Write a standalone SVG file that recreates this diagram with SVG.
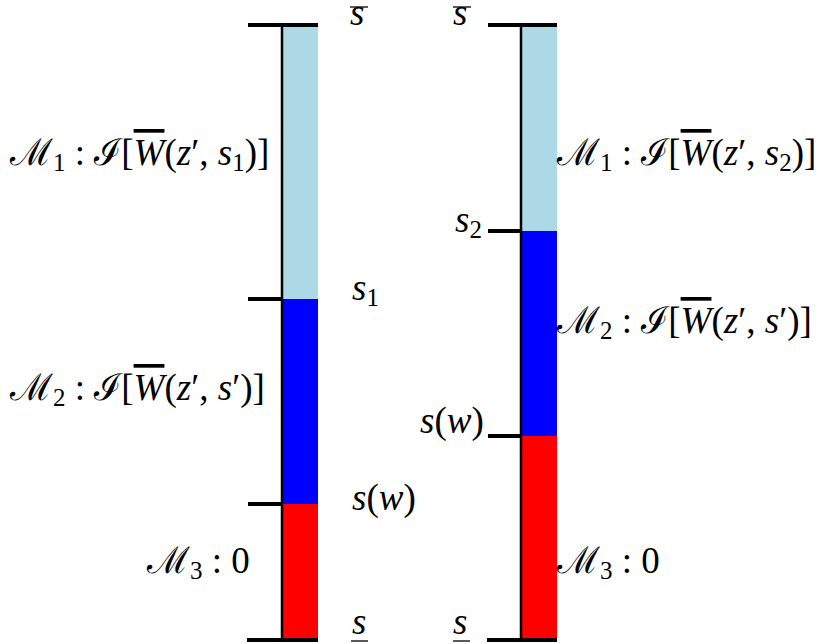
<svg xmlns="http://www.w3.org/2000/svg" width="824" height="644" viewBox="0 0 824 644">
<style>
.i{font-style:italic}
.sub{font-size:25px}
.tick{stroke:#000;stroke-width:4;fill:none}
.axis{stroke:#000;stroke-width:2.5;fill:none}
.ol{stroke:#000;stroke-width:1.3;fill:none}
.lb{fill:#ADD8E6}.bl{fill:#0000FF}.rd{fill:#FF0000}
</style>
<rect width="824" height="644" fill="#fff"/>
<g id="bar-left">
<rect class="lb" x="282" y="25" width="36" height="274"/>
<rect class="bl" x="282" y="299" width="36" height="205"/>
<rect class="rd" x="282" y="504" width="36" height="136"/>
<line class="axis" x1="282" y1="25" x2="282" y2="640"/>
<line class="tick" x1="248" y1="25" x2="318" y2="25"/>
<line class="tick" x1="248" y1="299" x2="282" y2="299"/>
<line class="tick" x1="248" y1="504" x2="282" y2="504"/>
<line class="tick" x1="247" y1="640" x2="318" y2="640"/>
</g>
<g id="bar-right">
<rect class="lb" x="521" y="25" width="36" height="206"/>
<rect class="bl" x="521" y="231" width="36" height="205"/>
<rect class="rd" x="521" y="436" width="36" height="204"/>
<line class="axis" x1="521" y1="25" x2="521" y2="640"/>
<line class="tick" x1="488" y1="25" x2="557" y2="25"/>
<line class="tick" x1="488" y1="231" x2="521" y2="231"/>
<line class="tick" x1="488" y1="436" x2="521" y2="436"/>
<line class="tick" x1="487" y1="640" x2="557" y2="640"/>
</g>
<g id="labels-left" font-family="Liberation Serif, DejaVu Serif, serif" font-size="37" fill="#000">
<text x="10" y="165">ℳ<tspan class="sub" dy="6">1</tspan><tspan dy="-6"> : ℐ[</tspan><tspan class="i" text-decoration="overline">W</tspan>(<tspan class="i">z</tspan>′, <tspan class="i">s</tspan><tspan class="sub" dy="6">1</tspan><tspan dy="-6">)]</tspan></text>
<text x="10" y="400">ℳ<tspan class="sub" dy="6">2</tspan><tspan dy="-6"> : ℐ[</tspan><tspan class="i" text-decoration="overline">W</tspan>(<tspan class="i">z</tspan>′, <tspan class="i">s</tspan>′)]</text>
<text x="147" y="573">ℳ<tspan class="sub" dy="6">3</tspan><tspan dy="-6"> : 0</tspan></text>
<text class="i" x="350" y="25">s</text>
<text x="352" y="300"><tspan class="i">s</tspan><tspan class="sub" dy="6">1</tspan></text>
<text x="352" y="510"><tspan class="i">s</tspan>(<tspan class="i">w</tspan>)</text>
<text class="i" x="352" y="634">s</text>
<line class="ol" x1="350" y1="7" x2="368" y2="7"/>
<line class="ol" x1="351" y1="641" x2="368" y2="641"/>
</g>
<g id="labels-right" font-family="Liberation Serif, DejaVu Serif, serif" font-size="37" fill="#000">
<text class="i" x="453" y="25">s</text>
<line class="ol" x1="453" y1="7" x2="471" y2="7"/>
<text x="557" y="165">ℳ<tspan class="sub" dy="6">1</tspan><tspan dy="-6"> : ℐ[</tspan><tspan class="i" text-decoration="overline">W</tspan>(<tspan class="i">z</tspan>′, <tspan class="i">s</tspan><tspan class="sub" dy="6">2</tspan><tspan dy="-6">)]</tspan></text>
<text x="455" y="232"><tspan class="i">s</tspan><tspan class="sub" dy="6">2</tspan></text>
<text x="557" y="333">ℳ<tspan class="sub" dy="6">2</tspan><tspan dy="-6"> : ℐ[</tspan><tspan class="i" text-decoration="overline">W</tspan>(<tspan class="i">z</tspan>′, <tspan class="i">s</tspan>′)]</text>
<text x="420" y="433"><tspan class="i">s</tspan>(<tspan class="i">w</tspan>)</text>
<text x="557" y="573">ℳ<tspan class="sub" dy="6">3</tspan><tspan dy="-6"> : 0</tspan></text>
<text class="i" x="453" y="634">s</text>
<line class="ol" x1="453" y1="641" x2="470" y2="641"/>
</g>
</svg>
